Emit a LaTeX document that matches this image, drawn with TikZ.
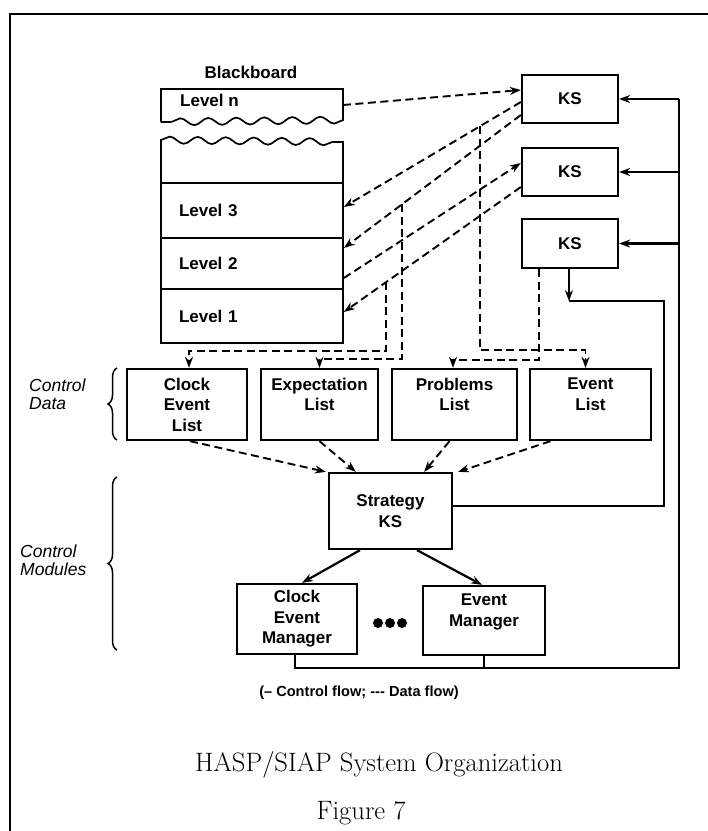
\documentclass[tikz,border=0pt]{standalone}
\usepackage{fontspec}
\setsansfont{Liberation Sans}
\usetikzlibrary{arrows.meta, positioning, calc, decorations.pathmorphing, decorations.pathreplacing}
\tikzset{
  box/.style={rectangle, draw, line width=2.3pt, align=center, inner sep=0pt,
    font=\sffamily\bfseries\fontsize{17}{20.5}\selectfont},
  ksbox/.style={box, minimum width=96pt, minimum height=48pt},
  listbox/.style={box, minimum height=71pt},
  bbline/.style={line width=1.7pt},
  bbrow/.style={rectangle, draw, line width=1.7pt, minimum width=182pt,
    inner xsep=18pt, inner ysep=0pt, text width=146pt, align=left,
    font=\sffamily\bfseries\fontsize{17}{20}\selectfont},
  wavy/.style={decoration={snake, segment length=28pt, amplitude=3.5pt}},
  ctrl/.style={line width=2.2pt, -{Stealth[length=11pt, width=8pt]}},
  ctrlline/.style={line width=2.2pt},
  data/.style={line width=1.9pt, dash pattern=on 8pt off 4.5pt,
    -{Stealth[length=11pt, width=8pt]}},
  brace/.style={decorate, decoration={brace, amplitude=9pt}, line width=1.5pt},
  sidenote/.style={anchor=west, align=left, inner sep=0pt,
    font=\sffamily\itshape\fontsize{17.5}{18}\selectfont},
}

\begin{document}
\begin{tikzpicture}[x=1pt, y=-1pt]
  \useasboundingbox (0,0) rectangle (708,831);
  % page frame
  \draw[line width=1.8pt] (10,831) -- (10,14) -- (708,14);

  % blackboard
  \node[font=\sffamily\bfseries\fontsize{17}{20}\selectfont] (bbtitle) at (251,72) {Blackboard};
  \draw[bbline] (161,122) -- (161,89) -- (343,89) -- (343,120)
    decorate[wavy]{-- (161,122)};
  \node[anchor=west, inner sep=0pt, font=\sffamily\bfseries\fontsize{17}{20}\selectfont]
    (lvn) at (180,100) {Level n};
  \coordinate (lvn-e) at (343,105);
  \draw[bbline] (161,183) -- (161,140) decorate[wavy]{-- (343,142)} -- (343,183);
  \node[bbrow, minimum height=55pt] (lv3) at (252,210.5) {Level 3};
  \node[bbrow, minimum height=51pt] (lv2) at (252,263.5) {Level 2};
  \node[bbrow, minimum height=54pt] (lv1) at (252,316) {Level 1};

  % knowledge sources
  \node[ksbox] (ks1) at (570,99) {KS};
  \node[ksbox] (ks2) at (570,172) {KS};
  \node[ksbox, minimum height=49pt] (ks3) at (570,243.5) {KS};

  % control data
  \node[listbox, minimum width=120pt] (cel) at (187,404.5) {Clock\\Event\\List};
  \node[listbox, minimum width=117pt] (expl) at (319.5,404.5) {Expectation\\List\\\mbox{}};
  \node[listbox, minimum width=125pt] (probl) at (454.5,404.5) {Problems\\List\\\mbox{}};
  \node[listbox, minimum width=121pt] (evl) at (590.5,404.5) {Event\\List\\\mbox{}};

  % control modules
  \node[box, minimum width=123pt, minimum height=76pt] (strat) at (390.5,511) {Strategy\\KS};
  \node[box, minimum width=120pt, minimum height=70pt] (cem) at (297,619) {Clock\\Event\\Manager};
  \node[box, minimum width=122pt, minimum height=69pt] (em) at (484,620.5) {Event\\Manager\\\mbox{}};
  \foreach \dx in {378,390,402}
    \fill (\dx,623) circle (5pt);

  % data flow
  \draw[data] (lvn-e) -- ($(ks1.west)+(0,-9)$);
  \draw[data] ($(ks1.west)+(0,3)$) -- coordinate[pos=0.231] (brA) ($(lv3.east)+(0,-3.5)$);
  \draw[data] ($(ks1.west)+(0,16)$) -- coordinate[pos=0.671] (brB) ($(lv2.east)+(0,-15.5)$);
  \draw[data] ($(lv2.east)+(0,14.5)$) -- ($(ks2.west)+(0,-9)$);
  \draw[data] ($(ks2.west)+(0,15)$) -- coordinate[pos=0.761] (brC) ($(lv1.east)+(0,-4)$);
  \draw[data] (brA) -- ($(brA |- evl.north)+(0,-18)$) -| ($(evl.north)+(-5,0)$);
  \draw[data] (brB) -- ($(brB |- expl.north)+(0,-9)$) -| (expl.north);
  \draw[data] (brC) -- ($(brC |- cel.north)+(0,-17)$) -| ($(cel.north)+(2,0)$);
  \draw[data] ($(ks3.south)+(-31,0)$) coordinate (ks3d)
    -- ($(ks3d |- probl.north)+(0,-8)$) -| ($(probl.north)+(-1.5,0)$);
  \draw[data] ($(cel.south)+(3,0)$) -- ($(strat.north west)+(-2,0)$);
  \draw[data] (expl.south) -- ($(strat.north west)+(28,0)$);
  \draw[data] ($(probl.south)+(-5,0)$) -- ($(strat.north east)+(-29,0)$);
  \draw[data] ($(evl.south)+(-40,0)$) -- ($(strat.north east)+(5,0)$);

  % control flow
  \coordinate (busTop) at (679,99);
  \coordinate (busR) at (679,668);
  \draw[ctrlline] ($(cem.south)+(-2,0)$) |- (busR) -- (busTop);
  \draw[ctrlline] (em.south) -- (em.south |- busR);
  \draw[ctrl] (busTop) -- (ks1.east);
  \draw[ctrl] (busTop |- ks2.east) -- (ks2.east);
  \draw[ctrl] (busTop |- ks3.east) -- (ks3.east);
  \draw[ctrl] ($(ks3.south)+(-1,0)$) -- ++(0,32) coordinate (ks3c);
  \draw[ctrlline] (ks3c) -- ++(95,0) |- ($(strat.east)+(0,-5)$);
  \draw[ctrl] ($(strat.south)+(-30.5,0)$) -- ($(cem.north)+(5,0)$);
  \draw[ctrl] ($(strat.south)+(26.5,0)$) -- ($(em.north)+(-2,0)$);

  % braces and side notes
  \draw[brace] (117,440) -- (117,368);
  \draw[brace] (117,650) -- (117,477);
  \node[sidenote] (cdata) at (29,394) {Control\\Data};
  \node[sidenote] (cmod) at (20,560) {Control\\Modules};

  % legend and caption
  \node[font=\sffamily\bfseries\fontsize{14.6}{16}\selectfont] (legend) at (359,693)
    {(– Control flow; -\kern0pt-\kern0pt- Data flow)};
  \node[font=\fontsize{26.6}{30}\selectfont] (title) at (379,765) {HASP/SIAP System Organization};
  \node[font=\fontsize{26.6}{30}\selectfont] (fig) at (361,813) {Figure 7};
\end{tikzpicture}
\end{document}
